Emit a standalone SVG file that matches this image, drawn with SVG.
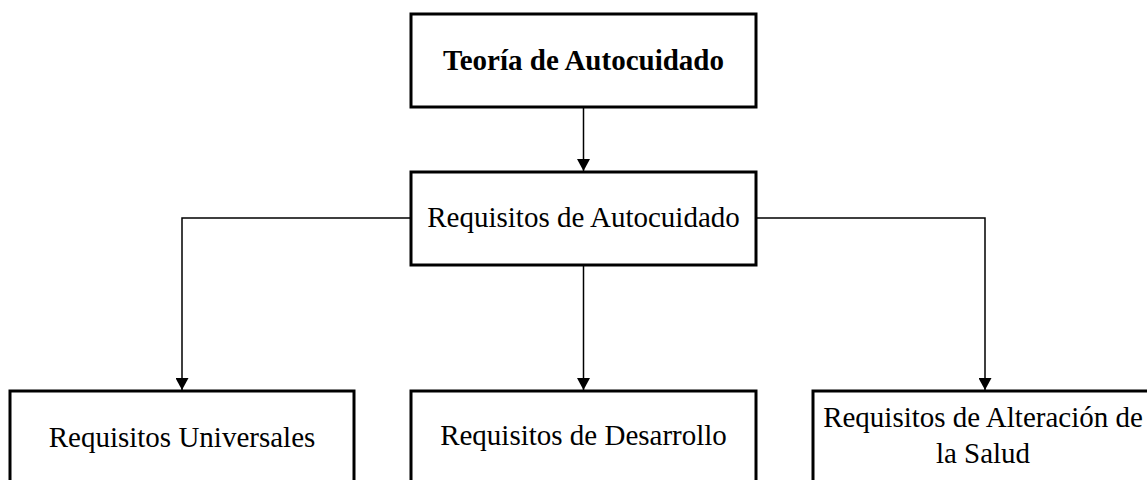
<svg xmlns="http://www.w3.org/2000/svg" width="1147" height="480" viewBox="0 0 1147 480">
<defs>
<style>
.box{fill:#fff;stroke:#000;stroke-width:3}
.t{font-family:"Liberation Serif","Times New Roman",serif;font-size:29px;fill:#000;text-anchor:middle}
.b{font-weight:bold}
.c{fill:none;stroke:#000;stroke-width:1.5}
</style>
<marker id="ah" viewBox="0 0 12 13" refX="12" refY="6.5" markerWidth="12" markerHeight="13" markerUnits="userSpaceOnUse" orient="auto">
<path d="M0,0 L12,6.5 L0,13 Z" fill="#000"/>
</marker>
</defs>
<rect width="1147" height="480" fill="#fff"/>
<g id="connectors">
<path class="c" d="M583.5,107 V171" marker-end="url(#ah)"/>
<path class="c" d="M410,218 H182 V390" marker-end="url(#ah)"/>
<path class="c" d="M583.5,265 V390" marker-end="url(#ah)"/>
<path class="c" d="M757,218 H985 V390" marker-end="url(#ah)"/>
</g>
<g id="n-teoria">
<rect class="box" x="411" y="14" width="345" height="93"/>
<text class="t b" x="583.5" y="70">Teoría de Autocuidado</text>
</g>
<g id="n-requisitos">
<rect class="box" x="411" y="172" width="345" height="93"/>
<text class="t" x="583.5" y="227">Requisitos de Autocuidado</text>
</g>
<g id="n-universales">
<rect class="box" x="10" y="391" width="344" height="120"/>
<text class="t" x="182" y="447">Requisitos Universales</text>
</g>
<g id="n-desarrollo">
<rect class="box" x="411" y="391" width="345" height="120"/>
<text class="t" x="583.5" y="445">Requisitos de Desarrollo</text>
</g>
<g id="n-alteracion">
<rect class="box" x="813" y="391" width="344" height="120"/>
<text class="t" x="983" y="427">Requisitos de Alteración de</text>
<text class="t" x="983" y="463">la Salud</text>
</g>
</svg>
